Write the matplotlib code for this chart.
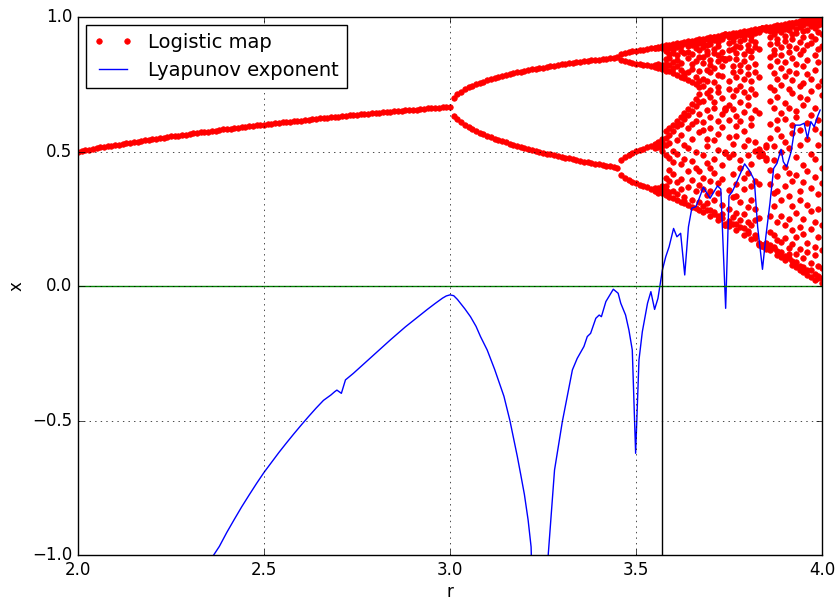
# Logistic map orbit points and Lyapunov exponent over r

import numpy as np
import matplotlib.pyplot as plt

# Stable fixed point, r = 2.00 ... 3.00
fixed_r = np.linspace(2.0, 3.0, 101)
fixed_x = [.500, .502, .505, .507, .510, .512, .515, .517, .519, .522,
           .524, .526, .528, .531, .533, .535, .537, .539, .541, .543,
           .545, .548, .550, .552, .554, .556, .558, .559, .561, .563,
           .565, .567, .569, .571, .573, .574, .576, .578, .580, .582,
           .583, .585, .587, .588, .590, .592, .593, .595, .597, .598,
           .600, .602, .603, .605, .606, .608, .609, .611, .612, .614,
           .615, .617, .618, .620, .621, .623, .624, .625, .627, .628,
           .630, .631, .632, .634, .635, .636, .638, .639, .640, .642,
           .643, .644, .645, .647, .648, .649, .650, .652, .653, .654,
           .655, .656, .658, .659, .660, .661, .662, .663, .664, .666,
           .667]

# Period 2, r = 3.01 ... 3.45
p2_r = np.linspace(3.01, 3.45, 45)
p2_hi = [.699, .713, .722, .731, .738, .744, .750, .755, .760, .765,
         .769, .773, .777, .781, .784, .787, .791, .794, .797, .800,
         .802, .805, .808, .810, .812, .815, .817, .819, .822, .824,
         .826, .828, .830, .832, .833, .835, .837, .839, .841, .842,
         .844, .845, .847, .849, .850]
p2_lo = [.633, .619, .608, .598, .590, .583, .576, .570, .564, .558,
         .553, .548, .543, .538, .534, .529, .525, .521, .517, .513,
         .509, .506, .502, .499, .495, .492, .489, .486, .483, .479,
         .477, .474, .471, .468, .465, .462, .460, .457, .455, .452,
         .450, .447, .445, .442, .440]

# Period 4, r = 3.46 ... 3.54
p4_r = np.linspace(3.46, 3.54, 9)
p4_a = [.862, .866, .870, .872, .875, .877, .879, .881, .883]
p4_b = [.840, .836, .832, .830, .827, .825, .823, .821, .819]
p4_c = [.468, .479, .487, .494, .501, .505, .510, .515, .520]
p4_d = [.414, .403, .395, .388, .383, .377, .372, .367, .362]

# Period 8 and chaotic range, r = 3.55 ... 4.00 (one list per r)
late_r = np.linspace(3.55, 4.0, 46)
late_x = [
    [.886, .883, .822, .814, .527, .512, .364, .352],
    [.889, .885, .824, .809, .535, .515, .366, .345],
    [.893, .890, .887, .884, .823, .817, .811, .805, .548, .534, .519, .503, .372, .361, .352, .344],
    [.895, .889, .881, .873, .843, .827, .816, .801, .575, .549, .526, .486, .401, .373, .357, .337],
    [.897, .893, .884, .861, .848, .822, .799, .586, .563, .531, .474, .433, .389, .348, .331],
    [.899, .895, .879, .866, .834, .811, .791, .598, .577, .502, .461, .417, .352, .326],
    [.902, .897, .888, .857, .839, .818, .784, .612, .594, .541, .489, .386, .343, .320],
    [.904, .901, .892, .874, .828, .803, .778, .627, .603, .562, .455, .398, .361, .314],
    [.907, .905, .902, .866, .793, .781, .772, .644, .633, .619, .523, .471, .332, .317, .307],
    [.909, .906, .893, .871, .848, .794, .766, .659, .637, .588, .512, .429, .367, .302],
    [.912, .907, .897, .862, .827, .806, .758, .677, .652, .603, .548, .463, .394, .321, .295],
    [.914, .911, .899, .883, .838, .776, .751, .694, .668, .612, .497, .437, .355, .289],
    [.917, .912, .904, .879, .853, .801, .762, .739, .712, .683, .641, .574, .428, .377, .311, .283],
    [.919, .914, .903, .887, .851, .829, .770, .742, .688, .611, .579, .488, .402, .361, .298, .276],
    [.922, .918, .896, .874, .862, .802, .761, .717, .655, .548, .521, .459, .338, .309, .283],
    [.924, .920, .911, .899, .841, .823, .795, .730, .702, .627, .586, .437, .392, .352, .284, .262],
    [.927, .924, .915, .880, .867, .812, .759, .684, .663, .541, .471, .419, .318, .276, .268],
    [.929, .922, .907, .893, .859, .836, .786, .741, .721, .612, .566, .507, .382, .344, .262, .247],
    [.932, .927, .919, .871, .848, .817, .779, .698, .641, .592, .451, .398, .301, .269, .252],
    [.935, .934, .936, .843, .842, .845, .657, .655, .660, .495, .493, .497, .227, .229, .226],
    [.937, .933, .925, .902, .877, .848, .763, .734, .672, .618, .553, .479, .357, .288, .241, .222],
    [.939, .936, .921, .909, .881, .819, .795, .708, .659, .528, .492, .416, .329, .258, .231],
    [.942, .937, .928, .893, .866, .844, .778, .729, .631, .594, .557, .381, .336, .273, .229, .207],
    [.944, .940, .934, .912, .888, .822, .801, .745, .683, .612, .468, .437, .312, .247, .219],
    [.947, .941, .929, .917, .861, .836, .769, .722, .648, .577, .519, .402, .362, .268, .214, .191],
    [.949, .946, .937, .896, .878, .813, .788, .701, .672, .541, .486, .421, .295, .238, .205, .197],
    [.952, .948, .931, .915, .872, .851, .762, .734, .623, .598, .452, .371, .318, .226, .176],
    [.954, .950, .942, .906, .889, .827, .796, .712, .656, .535, .503, .392, .287, .244, .191, .179],
    [.957, .955, .951, .944, .882, .778, .642, .511, .502, .483, .378, .252, .161, .156, .151],
    [.959, .960, .958, .957, .491, .488, .486, .493, .149, .151, .147, .153],
    [.962, .960, .955, .953, .526, .517, .476, .467, .161, .156, .142, .137],
    [.964, .960, .947, .925, .898, .853, .817, .741, .688, .602, .552, .433, .381, .262, .201, .152, .133],
    [.967, .962, .954, .938, .879, .864, .792, .727, .663, .521, .468, .347, .296, .188, .146, .141],
    [.969, .966, .951, .917, .903, .838, .771, .703, .617, .583, .409, .352, .237, .172, .131, .115],
    [.972, .968, .961, .943, .887, .858, .812, .748, .644, .557, .497, .318, .261, .163, .127, .106],
    [.974, .971, .956, .928, .909, .832, .781, .682, .622, .536, .443, .372, .226, .178, .112, .097],
    [.977, .972, .965, .951, .893, .871, .801, .733, .661, .512, .421, .336, .249, .143, .104, .118],
    [.979, .976, .968, .937, .918, .847, .764, .716, .597, .568, .392, .297, .208, .157, .094, .079],
    [.982, .978, .957, .940, .884, .827, .791, .649, .628, .478, .414, .271, .184, .118, .091, .069],
    [.984, .981, .972, .962, .908, .862, .742, .703, .581, .523, .354, .321, .221, .136, .076, .060],
    [.987, .983, .969, .947, .924, .876, .818, .756, .672, .451, .387, .249, .192, .103, .072, .051],
    [.989, .986, .978, .952, .897, .842, .787, .694, .606, .547, .428, .302, .161, .125, .058, .041],
    [.992, .988, .980, .966, .931, .903, .771, .726, .637, .492, .363, .279, .212, .087, .058, .032],
    [.994, .990, .975, .958, .917, .859, .803, .662, .584, .473, .405, .238, .146, .114, .043, .022],
    [.997, .993, .985, .969, .944, .881, .833, .744, .617, .526, .341, .287, .181, .073, .036, .029],
    [.999, .996, .988, .973, .936, .892, .762, .709, .568, .439, .382, .226, .133, .068, .031, .012],
]

# Lyapunov exponent estimates
lyap_r = [2.30, 2.34, 2.36, 2.38, 2.40, 2.42, 2.44, 2.46, 2.48, 2.50,
          2.52, 2.54, 2.56, 2.58, 2.60, 2.62, 2.64, 2.66, 2.68, 2.69,
          2.696, 2.708, 2.719, 2.74, 2.76, 2.78, 2.80, 2.82, 2.84, 2.86,
          2.88, 2.90, 2.92, 2.94, 2.96, 2.98, 2.99, 3.00, 3.01, 3.02,
          3.04, 3.055, 3.07, 3.082, 3.10, 3.12, 3.145, 3.161, 3.181, 3.19,
          3.20, 3.21, 3.218, 3.23, 3.24, 3.25, 3.264, 3.281, 3.302, 3.329,
          3.342, 3.360, 3.369, 3.378, 3.392, 3.401, 3.407, 3.419, 3.439, 3.452,
          3.459, 3.472, 3.481, 3.490, 3.499, 3.508, 3.517, 3.531, 3.540, 3.550,
          3.559, 3.571, 3.580, 3.589, 3.601, 3.610, 3.620, 3.631, 3.641, 3.650,
          3.661, 3.670, 3.681, 3.699, 3.719, 3.728, 3.741, 3.750, 3.759, 3.773,
          3.792, 3.804, 3.818, 3.827, 3.840, 3.849, 3.860, 3.870, 3.879, 3.890,
          3.896, 3.905, 3.917, 3.928, 3.941, 3.952, 3.961, 3.970, 3.979, 3.988,
          3.995]
lyap_val = [-1.20, -1.08, -1.01, -0.968, -0.916, -0.868, -0.821, -0.777, -0.734, -0.693,
            -0.656, -0.619, -0.584, -0.550, -0.517, -0.485, -0.454, -0.425, -0.405, -0.393,
            -0.387, -0.399, -0.349, -0.325, -0.300, -0.275, -0.250, -0.225, -0.200, -0.176,
            -0.152, -0.130, -0.108, -0.086, -0.065, -0.045, -0.037, -0.033, -0.036, -0.050,
            -0.085, -0.114, -0.150, -0.188, -0.238, -0.310, -0.410, -0.500, -0.634, -0.700,
            -0.775, -0.870, -0.970, -1.60, -2.50, -1.70, -1.00, -0.684, -0.504, -0.312,
            -0.269, -0.225, -0.188, -0.176, -0.120, -0.108, -0.114, -0.058, -0.012, -0.027,
            -0.064, -0.108, -0.164, -0.238, -0.622, -0.275, -0.170, -0.064, -0.021, -0.087,
            -0.046, 0.060, 0.109, 0.146, 0.214, 0.183, 0.196, 0.041, 0.220, 0.289,
            0.295, 0.326, 0.367, 0.326, 0.372, 0.360, -0.083, 0.335, 0.351, 0.394,
            0.454, 0.431, 0.394, 0.220, 0.062, 0.183, 0.307, 0.437, 0.456, 0.508,
            0.462, 0.443, 0.499, 0.598, 0.598, 0.605, 0.549, 0.611, 0.592, 0.630,
            0.654]

r_onset = 3.5699

# collect all orbit points
pts_r = list(fixed_r) + list(p2_r) * 2 + list(p4_r) * 4
pts_x = fixed_x + p2_hi + p2_lo + p4_a + p4_b + p4_c + p4_d
for r, col in zip(late_r, late_x):
    pts_r += [r] * len(col)
    pts_x += col

plt.style.use('classic')
fig = plt.figure(figsize=(8.36, 6.0), dpi=100)
ax = fig.add_axes([78 / 836, 45 / 600, 744 / 836, 538 / 600])

ax.plot(pts_r, pts_x, 'r.', markersize=8, label='Logistic map')
ax.plot(lyap_r, lyap_val, 'b-', label='Lyapunov exponent')
ax.axhline(0, color='g')
ax.axvline(r_onset, color='k')

ax.set_xlim(2, 4)
ax.set_ylim(-1, 1)
ax.set_xlabel('r', labelpad=3.5)
ax.set_ylabel('x')
ax.grid(True)
ax.legend(loc='upper left', fontsize=14, borderaxespad=0.4)

fig.savefig('out.png', dpi=100, facecolor='white')
